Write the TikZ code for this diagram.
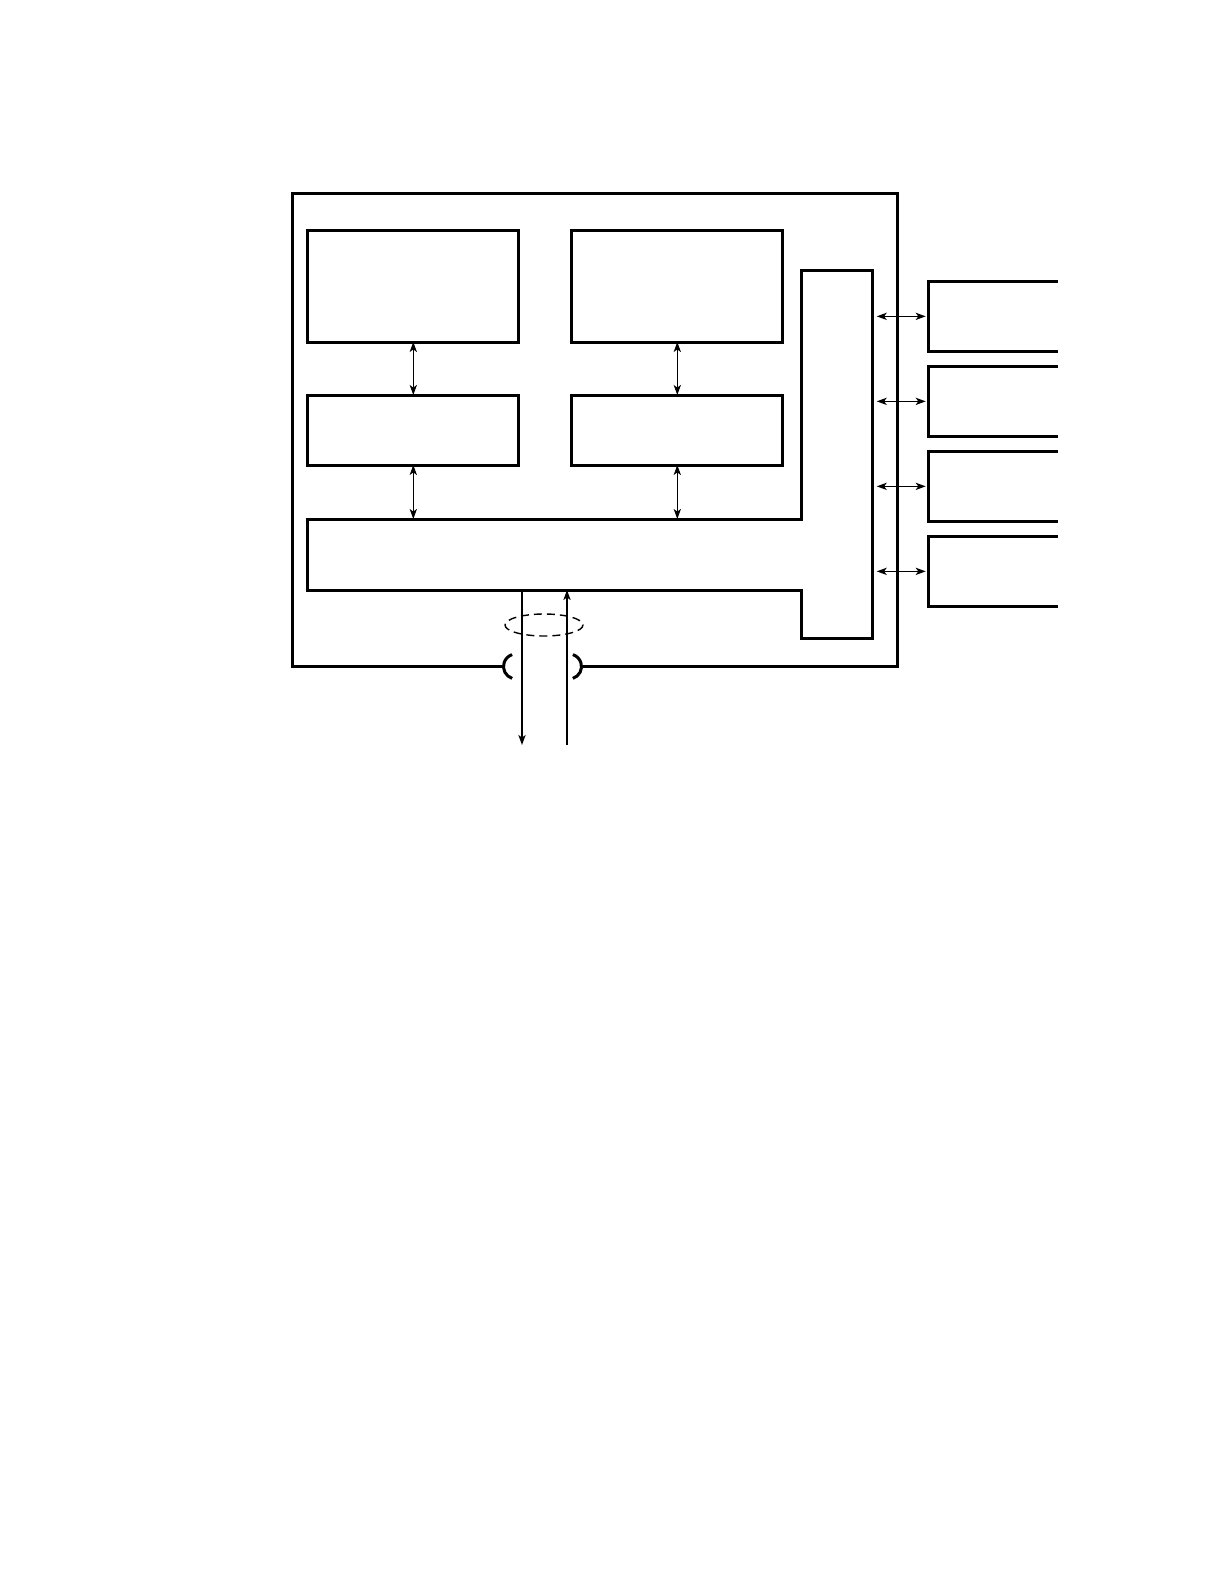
\documentclass[tikz,border=0pt]{standalone}
\usetikzlibrary{arrows.meta}
\begin{document}
\begin{tikzpicture}[x=0.5pt, y=-0.5pt,
  wall/.style={line width=1.5pt},
  blk/.style={draw, wall, inner sep=0pt, outer sep=0pt, minimum width=105.5pt},
  iobox/.style={inner sep=0pt, outer sep=0pt, minimum width=64.5pt, minimum height=35.35pt},
  tip/.tip={Stealth[length=5pt, width=3.6pt, inset=1.3pt]},
  link/.style={line width=0.7pt, tip-tip},
  wire/.style={line width=0.7pt}]
\useasboundingbox (0,0) rectangle (1224,1584);
% housing, open where the cable leaves
\draw[wall] (504,666.5) -- (292.5,666.5) -- (292.5,193.5) -- (897.5,193.5)
            -- (897.5,666.5) -- (581,666.5);
\draw[wall] (516,666.5) ++(108:12.5) arc (108:252:12.5);
\draw[wall] (569,666.5) ++(72:12.5) arc (72:-72:12.5);
% inner blocks
\node[blk, minimum height=56pt] (upleft) at (413.3,286) {};
\node[blk, minimum height=56pt] (upright) at (677.3,286) {};
\node[blk, minimum height=35pt] (midleft) at (413.3,430) {};
\node[blk, minimum height=35pt] (midright) at (677.3,430) {};
% L-shaped bus
\draw[wall] (307.7,519) -- (801.7,519) -- (801.7,270.7) -- (872.7,270.7)
            -- (872.7,638) -- (801.7,638) -- (801.7,590) -- (307.7,590) -- cycle;
\coordinate (bustop) at (0,519);
\coordinate (busside) at (876.7,0);
\coordinate (busbot) at (0,590);
\draw[link] (upleft) -- (midleft);
\draw[link] (upright) -- (midright);
\draw[link] (midleft.south) -- (midleft.south |- bustop);
\draw[link] (midright.south) -- (midright.south |- bustop);
% outside units
\foreach \i/\y in {1/316.35, 2/401.35, 3/486.35, 4/571.35} {
  \node[iobox] (io\i) at (993.2,\y) {};
  \draw[wall] (io\i.north east) -- (io\i.north west) -- (io\i.south west) -- (io\i.south east);
  \draw[link, shorten >=1.5pt] (io\i.west -| busside) -- (io\i.west);
}
% cable
\coordinate (txend) at (522,745);
\coordinate (rxend) at (567,745);
\draw[wire, -tip] (txend |- busbot) -- (txend);
\draw[wire, -tip] (rxend) -- (rxend |- busbot);
\draw[wire, dashed, dash pattern=on 4pt off 2.5pt] (544,625) ellipse [x radius=39, y radius=11];
\end{tikzpicture}
\end{document}
